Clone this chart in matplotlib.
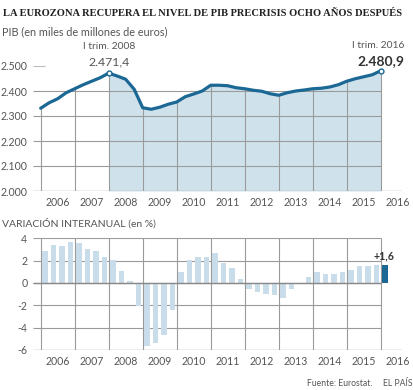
import matplotlib
matplotlib.use("Agg")
import matplotlib.pyplot as plt

# quarterly data, 2006 Q1 .. 2016 Q1
years = [str(y) for y in range(2006, 2017)]
gdp = [2331, 2353, 2369, 2393, 2409, 2425, 2439, 2453,
       2471.4, 2460, 2447, 2407, 2333, 2327, 2335, 2347,
       2356, 2377, 2388, 2400, 2423, 2423, 2421, 2413,
       2409, 2403, 2399, 2389, 2383, 2393, 2400, 2404,
       2409, 2411, 2416, 2425, 2439, 2449, 2457, 2465,
       2480.9]
growth = [2.9, 3.4, 3.3, 3.7, 3.6, 3.0, 2.9, 2.3,
          2.1, 1.1, 0.2, -2.1, -5.6, -5.4, -4.7, -2.4,
          1.0, 2.1, 2.3, 2.3, 2.7, 1.8, 1.3, 0.4,
          -0.5, -0.8, -1.0, -1.1, -1.3, -0.5, 0.0, 0.5,
          1.0, 0.8, 0.8, 1.0, 1.2, 1.5, 1.5, 1.6,
          1.6]
gdp_ticks = [2000, 2100, 2200, 2300, 2400, 2500]
gdp_labels = ["2.000", "2.100", "2.200", "2.300", "2.400", "2.500"]
growth_ticks = [-6, -4, -2, 0, 2, 4]
growth_labels = ["-6", "-4", "-2", "0", "2", "4"]

W, H = 414, 390
DARK = "#1b6895"
FILL = "#cfe2ec"
BAR = "#c8dde9"
GRID = "#9a9a9a"
TXT = "#555555"
FONT = "Lato"

plt.rcParams["font.family"] = [FONT, "DejaVu Sans"]

fig = plt.figure(figsize=(W / 100, H / 100), dpi=100)


def fx(x):
    return x / W


def fy(y):
    return 1 - y / H


n = len(gdp)
q = list(range(n))
xmin, xmax = -0.9, 42.5
left, width = fx(33), fx(402) - fx(33)

# ---- top: GDP level ----
ax1 = fig.add_axes([left, fy(191), width, (191 - 66) / H])
ax1.set_xlim(xmin, xmax)
ax1.set_ylim(2000, 2500)
start = 8  # I trim. 2008
ax1.fill_between(q[start:], 2000, gdp[start:], color=FILL, lw=0, zorder=1)
for v in gdp_ticks[1:-1]:
    ax1.hlines(v, xmin, 40, color=GRID, lw=0.8, zorder=2)
ax1.hlines(2500, xmin, 0.5, color="#bbbbbb", lw=0.8, zorder=2)
for i in range(0, n, 4):
    ax1.vlines(i, 2000, gdp[i], color=GRID, lw=0.8, zorder=2)
ax1.hlines(2000, xmin, xmax, color="#aaaaaa", lw=1.0, zorder=2)
ax1.plot(q, gdp, color=DARK, lw=2.3, zorder=3, solid_capstyle="round")
ax1.plot([start, n - 1], [gdp[start], gdp[-1]], "o", ms=3.5, mfc="white",
         mec=DARK, mew=1.0, zorder=4)
ax1.set_yticks(gdp_ticks, gdp_labels)
ax1.set_xticks([4 * k + 2 for k in range(len(years))], years)

# ---- bottom: year-on-year change ----
ax2 = fig.add_axes([left, fy(350), width, (350 - 238.3) / H])
ax2.set_xlim(xmin, xmax)
ax2.set_ylim(-6, 4)
for v in growth_ticks[1:]:
    ax2.hlines(v, xmin, 40, color=GRID, lw=0.8, zorder=1)
for i in range(0, n, 4):
    ax2.vlines(i, -6, 4, color=GRID, lw=0.8, zorder=1)
ax2.hlines(-6, xmin, xmax, color="#aaaaaa", lw=1.0, zorder=1)
colors = [BAR] * (n - 1) + [DARK]
ax2.bar([i + 0.5 for i in q], growth, width=0.68, color=colors, zorder=2)
ax2.hlines(0, xmin, 40, color="#888888", lw=1.0, zorder=3)
ax2.set_yticks(growth_ticks, growth_labels)
ax2.set_xticks([4 * k + 2 for k in range(len(years))], years)

for ax in (ax1, ax2):
    for s in ax.spines.values():
        s.set_visible(False)
    ax.tick_params(length=0, labelsize=7.6, colors=TXT)
    ax.tick_params(axis="y", pad=4)
    ax.tick_params(axis="x", pad=4)
    ax.patch.set_alpha(0)

# ---- texts ----
fig.text(fx(3), fy(13), "LA EUROZONA RECUPERA EL NIVEL DE PIB PRECRISIS OCHO AÑOS DESPUÉS",
         family="Liberation Serif", weight="bold", fontsize=7.6, color="#222222",
         va="center", ha="left")
fig.text(fx(2), fy(32), "PIB (en miles de millones de euros)", fontsize=7.8,
         color=TXT, va="center")
fig.text(fx(2), fy(223), "VARIACIÓN INTERANUAL (en %)", fontsize=7.5,
         color=TXT, va="center")

ax1.annotate("I trim. 2008", (start, gdp[start]), xytext=(0, 19),
             textcoords="offset points", ha="center", va="center",
             fontsize=7.4, color=TXT)
ax1.annotate("2.471,4", (start, gdp[start]), xytext=(0, 8),
             textcoords="offset points", ha="center", va="center",
             fontsize=8.8, color=TXT)
ax1.annotate("I trim. 2016", (n - 1, gdp[-1]), xytext=(17, 18),
             textcoords="offset points", ha="right", va="center",
             fontsize=7.4, color=TXT)
ax1.annotate("2.480,9", (n - 1, gdp[-1]), xytext=(17, 7),
             textcoords="offset points", ha="right", va="center",
             fontsize=10, weight="bold", color="#333333")
ax2.annotate("+1,6", (n - 1 + 0.5, growth[-1]), xytext=(-1, 7),
             textcoords="offset points", ha="center", va="center",
             fontsize=7.6, weight="bold", color="#333333")

fig.text(fx(307), fy(384), "Fuente: Eurostat.", fontsize=6.2, color=TXT, va="center")
fig.text(fx(413), fy(384), "EL PAÍS", fontsize=6.2, color=TXT, va="center", ha="right")

fig.savefig("out.png", dpi=100)
